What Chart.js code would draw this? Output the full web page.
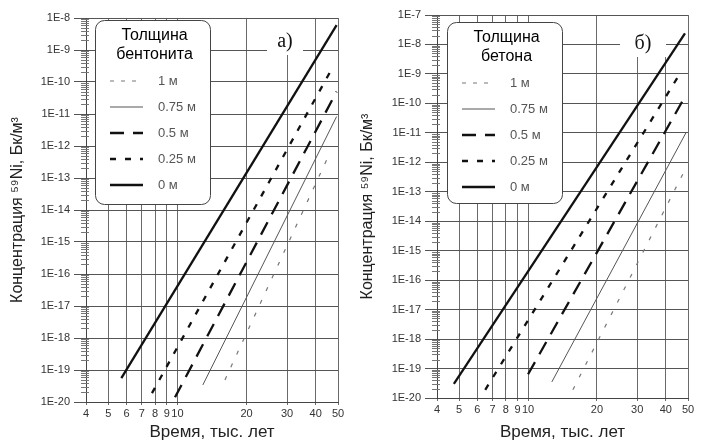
<!DOCTYPE html>
<html>
<head>
<meta charset="utf-8">
<script src="https://cdn.jsdelivr.net/npm/chart.js@4.4.1/dist/chart.umd.min.js"></script>
<style>
  body { margin: 0; background: #fff; width: 701px; height: 441px; position: relative; overflow: hidden; }
  canvas { position: absolute; top: 0; }
  #grafA { left: 0; }
  #grafB { left: 350px; }
</style>
</head>
<body>
<canvas id="grafA" width="350" height="441"></canvas>
<canvas id="grafB" width="351" height="441"></canvas>
<script>
// подписи
const thickness = ["1 м", "0.75 м", "0.5 м", "0.25 м", "0 м"];
const timeTicks = [4, 5, 6, 7, 8, 9, 10, 20, 30, 40, 50];
const concTicksA = [1e-20, 1e-19, 1e-18, 1e-17, 1e-16, 1e-15, 1e-14, 1e-13, 1e-12, 1e-11, 1e-10, 1e-9, 1e-8];
const concTicksB = [1e-20, 1e-19, 1e-18, 1e-17, 1e-16, 1e-15, 1e-14, 1e-13, 1e-12, 1e-11, 1e-10, 1e-9, 1e-8, 1e-7];

// а) бентонит: время (тыс. лет) и концентрация (Бк/м3)
const timeA1 = [16.1, 46.2],   concA1 = [4.9e-20, 6.3e-13];
const timeA075 = [12.9, 49.3], concA075 = [3.4e-20, 8.3e-12];
const timeA05 = [9.76, 49.3],  concA05 = [1.4e-20, 5.0e-11];
const timeA025 = [7.75, 46.1], concA025 = [1.9e-20, 2.0e-10];
const timeA0 = [5.7, 49.3],    concA0 = [5.6e-20, 6.0e-9];

// б) бетон
const timeB1 = [15.7, 49.2],   concB1 = [1.9e-20, 6.9e-13];
const timeB075 = [12.7, 49.2], concB075 = [3.5e-20, 1.07e-11];
const timeB05 = [10.0, 48.5],  concB05 = [6.4e-20, 1.7e-10];
const timeB025 = [6.5, 47.0],  concB025 = [1.9e-20, 1.3e-9];
const timeB0 = [4.74, 48.5],   concB0 = [3.0e-20, 2.4e-8];

const styles = [
  { borderColor: "#777", borderWidth: 1.2, borderDash: [4, 10] },
  { borderColor: "#555", borderWidth: 1, borderDash: [] },
  { borderColor: "#111", borderWidth: 2.3, borderDash: [14, 9] },
  { borderColor: "#111", borderWidth: 2.3, borderDash: [6, 9] },
  { borderColor: "#111", borderWidth: 2.3, borderDash: [] }
];

function pts(t, c) {
  return t.map((v, i) => ({ x: v, y: c[i] }));
}

function makeSets(series) {
  return series.map((s, i) => ({
    label: thickness[i],
    data: pts(s[0], s[1]),
    borderColor: styles[i].borderColor,
    borderWidth: styles[i].borderWidth,
    borderDash: styles[i].borderDash,
    pointRadius: 0,
    fill: false,
    tension: 0
  }));
}

// легенда в рамке
const boxLegend = {
  id: "boxLegend",
  afterDatasetsDraw(chart, args, o) {
    const ctx = chart.ctx;
    ctx.save();
    ctx.beginPath();
    ctx.roundRect(o.x + 0.5, o.y + 0.5, o.w, o.h, 9);
    ctx.fillStyle = "#fff";
    ctx.fill();
    ctx.strokeStyle = "#444";
    ctx.lineWidth = 1;
    ctx.stroke();
    ctx.fillStyle = "#000";
    ctx.font = "16px 'Liberation Sans', Arial, sans-serif";
    ctx.textAlign = "center";
    ctx.textBaseline = "middle";
    o.title.forEach((t, i) => ctx.fillText(t, o.x + o.w / 2 + 2, o.y + 16 + i * 19));
    chart.data.datasets.forEach((ds, i) => {
      const y = o.y + 61 + i * 26;
      ctx.beginPath();
      ctx.strokeStyle = ds.borderColor;
      ctx.lineWidth = ds.borderWidth;
      ctx.setLineDash(i === 0 ? [4, 7] : ds.borderDash);
      ctx.moveTo(o.x + 15, y);
      ctx.lineTo(o.x + 48, y);
      ctx.stroke();
      ctx.setLineDash([]);
      ctx.fillStyle = "#555";
      ctx.font = "13px 'Liberation Sans', Arial, sans-serif";
      ctx.textAlign = "left";
      ctx.fillText(ds.label, o.x + 63, y);
    });
    ctx.restore();
  }
};

// подпись панели
const panelLabel = {
  id: "panelLabel",
  beforeDatasetsDraw(chart, args, o) {
    const ctx = chart.ctx;
    ctx.save();
    ctx.fillStyle = "#fff";
    ctx.fillRect(o.x - o.w / 2, chart.chartArea.top + 1, o.w, o.y - chart.chartArea.top + 12);
    ctx.fillStyle = "#111";
    ctx.font = "20px 'Liberation Serif', 'Times New Roman', serif";
    ctx.textAlign = "center";
    ctx.textBaseline = "middle";
    ctx.fillText(o.text, o.x, o.y);
    ctx.restore();
  }
};

// мелкие засечки на оси Y
const minorTicks = {
  id: "minorTicks",
  afterDraw(chart) {
    const s = chart.scales.y;
    const ctx = chart.ctx;
    const x0 = chart.chartArea.left;
    ctx.save();
    ctx.strokeStyle = "#777";
    ctx.lineWidth = 1;
    const lo = Math.round(Math.log10(s.min)), hi = Math.round(Math.log10(s.max));
    for (let k = lo; k < hi; k++) {
      for (let d = 2; d <= 9; d++) {
        const y = Math.round(s.getPixelForValue(d * Math.pow(10, k))) + 0.5;
        ctx.beginPath();
        ctx.moveTo(x0 - 5, y);
        ctx.lineTo(x0 + 3, y);
        ctx.stroke();
      }
    }
    ctx.restore();
  }
};

function makeChart(id, series, yTicks, pad, yW, xH, legendBox, label) {
  const font = "'Liberation Sans', Arial, sans-serif";
  return new Chart(document.getElementById(id).getContext("2d"), {
    type: "line",
    data: { datasets: makeSets(series) },
    plugins: [minorTicks, panelLabel, boxLegend],
    options: {
      responsive: false,
      animation: false,
      layout: { padding: pad },
      plugins: {
        legend: { display: false },
        tooltip: { enabled: false },
        boxLegend: legendBox,
        panelLabel: label
      },
      scales: {
        x: {
          type: "logarithmic",
          min: 4, max: 50,
          afterFit: s => { s.height = xH; },
          afterBuildTicks: s => { s.ticks = timeTicks.map(v => ({ value: v })); },
          ticks: {
            autoSkip: false, maxRotation: 0, padding: 2,
            color: "#333", font: { family: font, size: 11 },
            callback: v => String(v)
          },
          grid: { color: "#6a6a6a", lineWidth: 1, tickLength: 3 },
          border: { color: "#444" },
          title: {
            display: true, text: "Время, тыс. лет",
            color: "#222", font: { family: font, size: 17, lineHeight: 1 },
            padding: { top: 0, bottom: 0 }
          }
        },
        y: {
          type: "logarithmic",
          min: yTicks[0], max: yTicks[yTicks.length - 1],
          afterFit: s => { s.width = yW; },
          afterBuildTicks: s => { s.ticks = yTicks.map(v => ({ value: v })); },
          ticks: {
            autoSkip: false, padding: 4,
            color: "#333", font: { family: font, size: 11 },
            callback: v => "1E" + Math.round(Math.log10(v))
          },
          grid: { color: "#555", lineWidth: 1, tickLength: 12 },
          border: { color: "#444" },
          title: {
            display: true, text: "Концентрация ⁵⁹Ni, Бк/м³",
            color: "#222", font: { family: font, size: 16, lineHeight: 1.2 },
            padding: { top: 8, bottom: 0 }
          }
        }
      }
    }
  });
}

makeChart("grafA",
  [[timeA1, concA1], [timeA075, concA075], [timeA05, concA05], [timeA025, concA025], [timeA0, concA0]],
  concTicksA, { left: 0, top: 18, right: 12, bottom: 0 }, 86, 39,
  { x: 95, y: 20, w: 115, h: 184, title: ["Толщина", "бентонита"] },
  { text: "а)", x: 285, y: 42, w: 36 });

makeChart("grafB",
  [[timeB1, concB1], [timeB075, concB075], [timeB05, concB05], [timeB025, concB025], [timeB0, concB0]],
  concTicksB, { left: 0, top: 15, right: 13, bottom: 0 }, 87, 43,
  { x: 97, y: 22, w: 115, h: 181, title: ["Толщина", "бетона"] },
  { text: "б)", x: 293, y: 44, w: 46 });
</script>
</body>
</html>
